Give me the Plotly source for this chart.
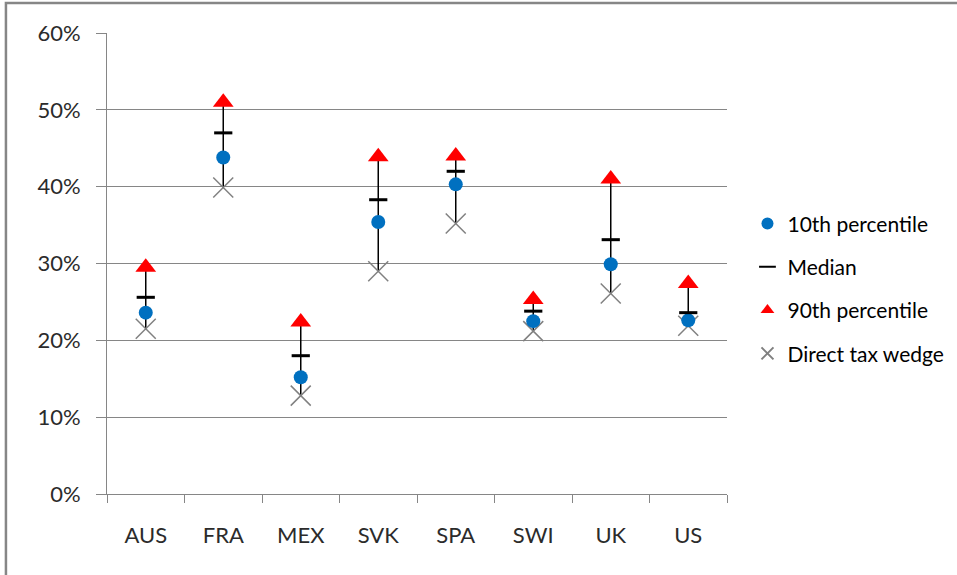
import plotly.graph_objects as go

categories = ["AUS", "FRA", "MEX", "SVK", "SPA", "SWI", "UK", "US"]
p10 = [23.6, 43.8, 15.2, 35.4, 40.3, 22.5, 29.9, 22.6]
median = [25.6, 47.0, 18.0, 38.3, 42.0, 23.8, 33.1, 23.6]
p90 = [29.5, 51.0, 22.4, 43.9, 44.0, 25.3, 41.0, 27.4]
direct = [21.5, 39.9, 12.8, 29.0, 35.2, 21.2, 26.1, 21.9]

FONT = "Lato, 'Open Sans', sans-serif"
GRID = "#868686"

# high-low lines built from the data
lx, ly = [], []
for c, hi, lo in zip(categories, p90, direct):
    lx += [c, c, None]
    ly += [hi, lo, None]

fig = go.Figure()
fig.add_trace(go.Scatter(x=lx, y=ly, mode="lines", line=dict(color="black", width=1.5),
                         showlegend=False, hoverinfo="skip"))
fig.add_trace(go.Scatter(x=categories, y=direct, mode="markers", name="Direct tax wedge",
                         marker=dict(symbol="x-thin", size=20, line=dict(color="#808080", width=1.5)),
                         legendrank=4, legendgroup="d"))
fig.add_trace(go.Scatter(x=categories, y=p10, mode="markers", name="10th percentile",
                         marker=dict(symbol="circle", size=14, color="#0070C0"),
                         legendrank=1, legendgroup="a"))
fig.add_trace(go.Scatter(x=categories, y=median, mode="markers", name="Median",
                         marker=dict(symbol="line-ew", size=13, line=dict(color="black", width=3)),
                         legendrank=2, legendgroup="b"))
fig.add_trace(go.Scatter(x=categories, y=p90, mode="markers", name="90th percentile",
                         marker=dict(symbol="triangle-up", size=18, color="#FF0000"),
                         legendrank=3, legendgroup="c"))

fig.update_layout(
    width=957, height=575,
    margin=dict(l=107, r=230, t=33, b=81, autoexpand=False),
    paper_bgcolor="white", plot_bgcolor="white",
    font=dict(family=FONT, size=22, color="#2b2b2b"),
    xaxis=dict(type="category", range=[-0.5, 7.5], showline=True, linecolor=GRID, linewidth=1,
               ticks="outside", tickson="boundaries", ticklen=8, tickcolor=GRID,
               showgrid=False, ticklabelstandoff=22, fixedrange=True),
    yaxis=dict(range=[0, 60], dtick=10, ticksuffix="%", showline=True, linecolor=GRID, linewidth=1,
               ticks="outside", ticklen=10, tickcolor=GRID, showgrid=True, gridcolor=GRID, gridwidth=1,
               zeroline=False, ticklabelstandoff=11),
    legend=dict(x=1.033, y=0.445, xanchor="left", yanchor="middle", itemsizing="constant",
                tracegroupgap=13, font=dict(family=FONT, size=21, color="black"),
                bgcolor="rgba(0,0,0,0)"),
    shapes=[dict(type="rect", xref="paper", yref="paper", x0=-0.163, x1=1.6, y0=-0.3, y1=1.065,
                 line=dict(color="#868686", width=2.5), layer="below")],
)

fig.write_html("out.html", config={"displayModeBar": False},
               post_script="document.body.style.margin='0';document.body.style.overflow='hidden';")
